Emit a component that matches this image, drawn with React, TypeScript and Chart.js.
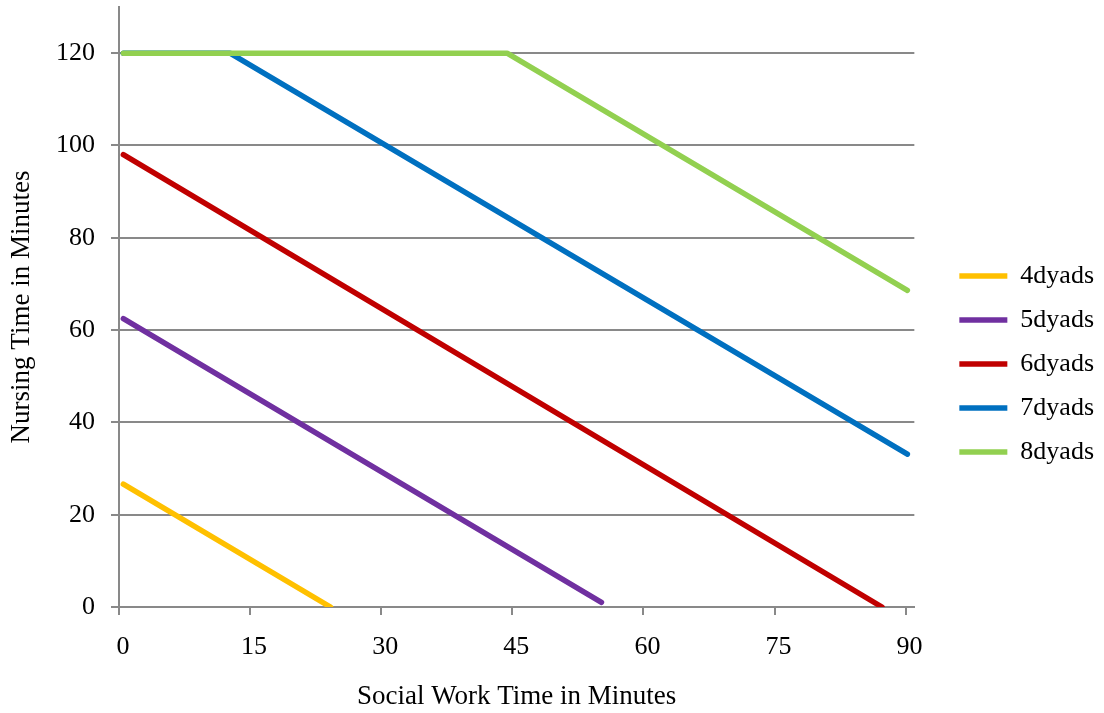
import React, { useEffect, useRef } from "react";
import { Chart, registerables } from "chart.js";

Chart.register(...registerables);

const seriesNames = ["4dyads", "5dyads", "6dyads", "7dyads", "8dyads"];
const seriesColors = ["#FFC000", "#7030A0", "#C00000", "#0070C0", "#92D050"];

const x4 = [0.5, 24.2];
const y4 = [26.6, 0];
const x5 = [0.5, 55.2];
const y5 = [62.5, 1.0];
const x6 = [0.5, 87.3];
const y6 = [98.0, 0];
const x7 = [0.5, 12.7, 90.2];
const y7 = [120, 120, 33.1];
const x8 = [0.5, 44.4, 90.2];
const y8 = [120, 120, 68.6];

const xTicks = [0, 15, 30, 45, 60, 75, 90];
const yTicks = [0, 20, 40, 60, 80, 100, 120];

const xTitle = "Social Work Time in Minutes";
const yTitle = "Nursing Time in Minutes";

const FONT = "'Liberation Serif', 'Times New Roman', serif";
const GRID = "#898989";

export default function App() {
  const ref = useRef<HTMLCanvasElement | null>(null);
  useEffect(() => {
    document.body.style.margin = "0";
    const xs = [x4, x5, x6, x7, x8];
    const ys = [y4, y5, y6, y7, y8];
    const datasets = seriesNames.map((name, i) => ({
      label: name,
      data: xs[i].map((x, j) => ({ x, y: ys[i][j] })),
      borderColor: seriesColors[i],
      backgroundColor: seriesColors[i],
      borderWidth: 5.5,
      borderCapStyle: "round" as const,
      borderJoinStyle: "round" as const,
      pointRadius: 0,
      pointHoverRadius: 0,
      tension: 0,
      fill: false,
      order: -i,
    }));
    const chart = new Chart(ref.current as HTMLCanvasElement, {
      type: "line",
      data: { datasets },
      options: {
        animation: false,
        responsive: true,
        maintainAspectRatio: false,
        layout: { padding: { top: 7, left: 0, right: 0, bottom: -8 } },
        plugins: {
          tooltip: { enabled: false },
          legend: {
            position: "right",
            align: "center",
            labels: {
              usePointStyle: true,
              pointStyle: "line",
              pointStyleWidth: 48,
              padding: 18,
              color: "#000",
              font: { family: FONT, size: 26 },
              sort: (a: any, b: any) => a.datasetIndex - b.datasetIndex,
            },
          },
        },
        scales: {
          x: {
            type: "linear",
            min: 0,
            max: 91,
            afterBuildTicks: (axis: any) => {
              axis.ticks = xTicks.map((v) => ({ value: v }));
            },
            grid: {
              display: true,
              drawOnChartArea: false,
              drawTicks: true,
              tickLength: 8,
              color: GRID,
              lineWidth: 2,
            },
            border: { display: true, color: GRID, width: 2 },
            ticks: {
              padding: 17,
              labelOffset: 4,
              color: "#000",
              font: { family: FONT, size: 26 },
              maxRotation: 0,
            },
            title: {
              display: true,
              text: xTitle,
              color: "#000",
              font: { family: FONT, size: 27 },
              padding: { top: 0.6, bottom: 7.8 },
            },
          },
          y: {
            type: "linear",
            min: 0,
            max: 130,
            afterBuildTicks: (axis: any) => {
              axis.ticks = yTicks.map((v) => ({ value: v }));
            },
            afterFit: (s: any) => {
              s.paddingTop = 0;
              s.paddingBottom = 0;
            },
            grid: {
              display: true,
              drawOnChartArea: true,
              drawTicks: true,
              tickLength: 8,
              color: GRID,
              lineWidth: 2,
            },
            border: { display: true, color: GRID, width: 2 },
            ticks: {
              padding: 16,
              color: "#000",
              font: { family: FONT, size: 26 },
            },
            title: {
              display: true,
              text: yTitle,
              color: "#000",
              font: { family: FONT, size: 27 },
              padding: { top: 5.8, bottom: 1.8 },
            },
          },
          gap: {
            type: "linear",
            position: "right",
            display: true,
            grid: { display: false },
            ticks: { display: false },
            border: { display: false },
            afterFit: (s: any) => {
              s.width = 27;
            },
          },
        },
      },
    });
    return () => chart.destroy();
  }, []);
  return (
    <div style={{ position: "relative", width: "1104px", height: "713px" }}>
      <canvas ref={ref} />
    </div>
  );
}
